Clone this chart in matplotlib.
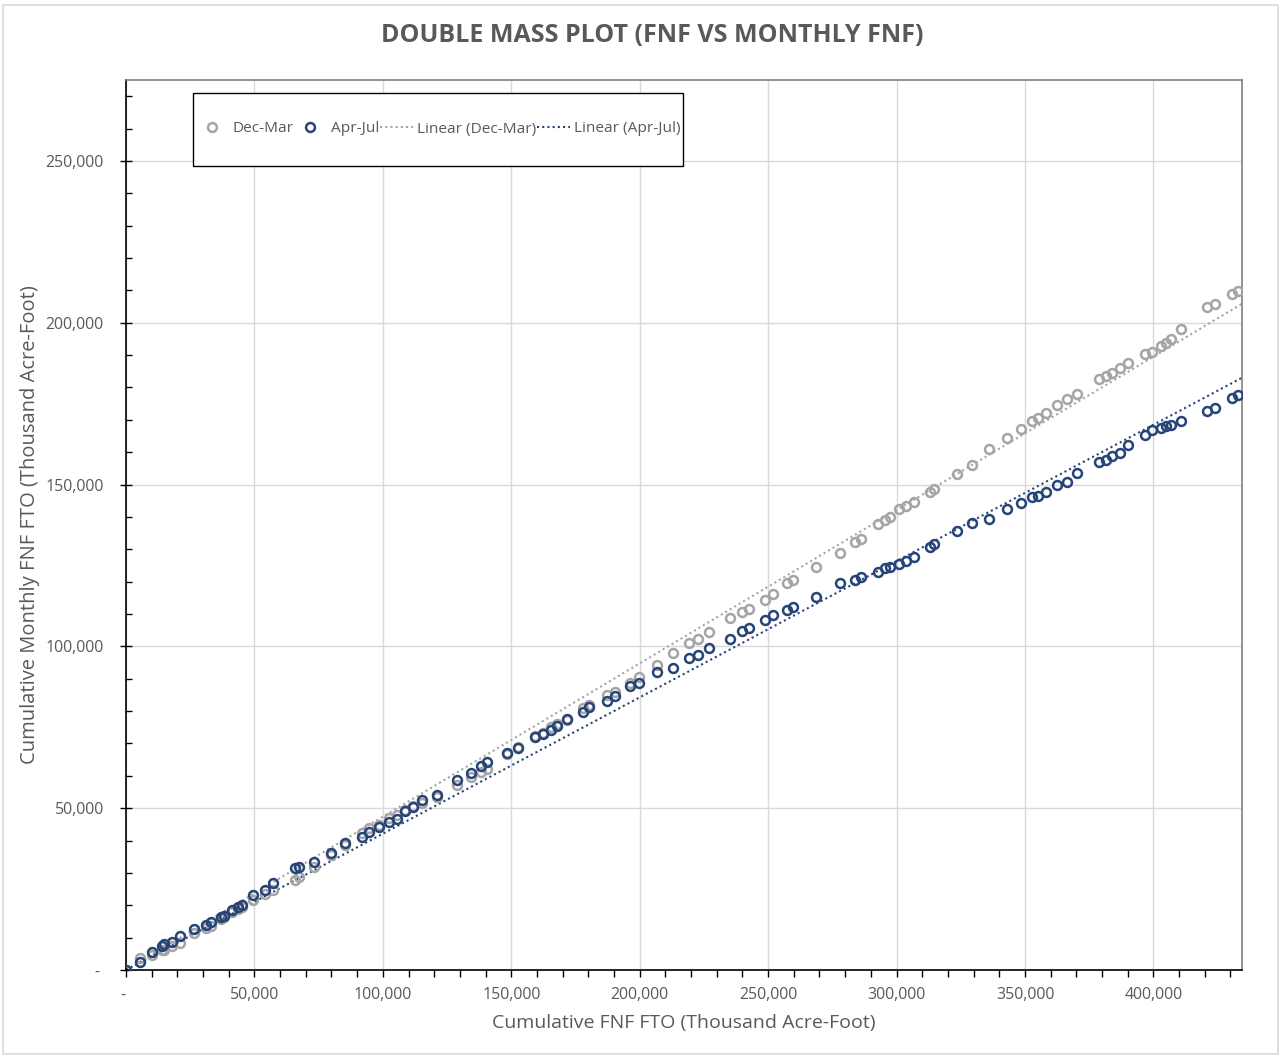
import matplotlib
matplotlib.use("Agg")
import matplotlib.pyplot as plt
from matplotlib.patches import Rectangle
from matplotlib.ticker import FuncFormatter, MultipleLocator
import numpy as np

# cumulative FNF (x) shared by both series, thousand acre-foot
cum_fnf = [0, 5450, 10100, 14000, 14800, 17900, 21000, 26450, 31100, 33070,
           36960, 38130, 41240, 43580, 45130, 49410, 54080, 57200, 65760, 67310,
           73150, 79770, 85210, 91830, 94550, 98440, 102330, 105450, 108560, 111670,
           115170, 121010, 128790, 134240, 138130, 140470, 148250, 152530, 159140, 162260,
           165370, 167700, 171590, 177820, 180150, 187160, 190270, 196110, 199610, 206610,
           212840, 219060, 222570, 226850, 235020, 239690, 242410, 248640, 251750, 257200,
           259530, 268480, 277820, 283650, 285990, 292600, 295330, 297270, 300770, 303500,
           306610, 312840, 314390, 323730, 329570, 336180, 343190, 348630, 352910, 355240,
           358360, 362640, 366530, 370420, 378980, 381700, 384040, 387150, 390270, 396880,
           399610, 403110, 405050, 407000, 410890, 421000, 424120, 430730, 433070]

# cumulative monthly FNF, Dec-Mar
dec_mar = [0, 3700, 4630, 6170, 6170, 7410, 8330, 11420, 12960, 13580,
           15740, 16360, 17900, 18820, 19440, 21600, 23450, 24690, 27770, 28700,
           31790, 35490, 38580, 42280, 43820, 44750, 46910, 47830, 49380, 50610,
           51540, 53390, 57090, 59560, 61100, 62030, 66660, 68820, 72210, 73140,
           74990, 75920, 77150, 80850, 81780, 84870, 85790, 88570, 90420, 94120,
           97830, 100910, 102150, 104310, 108630, 110480, 111400, 114180, 116030, 119430,
           120660, 124670, 128990, 132390, 133310, 137940, 139180, 140100, 142570, 143500,
           144730, 147820, 148750, 153370, 156150, 161090, 164480, 167260, 169730, 170660,
           172200, 174670, 176520, 178060, 182690, 183620, 184540, 186090, 187630, 190410,
           191030, 192880, 193800, 195040, 198120, 204910, 205840, 208920, 209850]

# cumulative monthly FNF, Apr-Jul
apr_jul = [0, 2470, 5550, 7410, 8020, 8640, 10490, 12650, 13890, 14810,
           16360, 16660, 18520, 19440, 20060, 23150, 24690, 26850, 31480, 31790,
           33330, 36110, 39190, 41040, 42590, 44130, 45670, 46600, 49070, 50300,
           52460, 54010, 58630, 60790, 62950, 64190, 66970, 68510, 71900, 72830,
           74060, 75300, 77460, 79620, 81160, 83010, 84560, 87640, 88570, 91960,
           93200, 96280, 97210, 99370, 102150, 104620, 105540, 108010, 109550, 111100,
           112020, 115110, 119430, 120660, 121280, 123130, 124060, 124670, 125600, 126530,
           127760, 130850, 131780, 135780, 138250, 139490, 142570, 144420, 146280, 146590,
           147820, 149980, 150910, 153680, 157080, 157690, 158930, 159850, 162320, 165410,
           166950, 167570, 168190, 168490, 169730, 172820, 173740, 176830, 177750]

x = np.array(cum_fnf, dtype=float)
y1 = np.array(dec_mar, dtype=float)
y2 = np.array(apr_jul, dtype=float)

grey = '#a5a5a5'
navy = '#264478'
txt = '#595959'

plt.rcParams['font.family'] = ['Open Sans', 'DejaVu Sans']

W, H = 1281, 1057
fig = plt.figure(figsize=(W / 100, H / 100), dpi=100)
ax = fig.add_axes([126 / W, 1 - 970 / H, (1242 - 126) / W, (970 - 80) / H])

# outer chart border
fig.patches.append(Rectangle((3 / W, 1 - 1054 / H), 1275 / W, 1049 / H,
                             transform=fig.transFigure, fill=False,
                             edgecolor='#d9d9d9', lw=1.2))

ax.plot(x, y1, 'o', mfc='none', mec=grey, mew=1.8, ms=6.4, label='Dec-Mar', zorder=3)
ax.plot(x, y2, 'o', mfc='none', mec=navy, mew=1.8, ms=6.4, label='Apr-Jul', zorder=3)

# linear trend lines through the origin (Excel trendline, intercept = 0)
xs = np.array([0, 434500])
k1 = np.sum(x * y1) / np.sum(x * x)
k2 = np.sum(x * y2) / np.sum(x * x)
ax.plot(xs, k1 * xs, color=grey, lw=1.5, ls=(0, (1, 1.5)),
        label='Linear (Dec-Mar)', zorder=2)
ax.plot(xs, k2 * xs, color=navy, lw=1.5, ls=(0, (1, 1.5)),
        label='Linear (Apr-Jul)', zorder=2)

ax.set_xlim(0, 434500)
ax.set_ylim(0, 275000)

def fmt(v, pos):
    if abs(v) < 1:
        return '- '
    return '{:,.0f}'.format(v)

ax.xaxis.set_major_locator(MultipleLocator(50000))
ax.xaxis.set_minor_locator(MultipleLocator(10000))
ax.yaxis.set_major_locator(MultipleLocator(50000))
ax.yaxis.set_minor_locator(MultipleLocator(10000))
ax.xaxis.set_major_formatter(FuncFormatter(fmt))
ax.yaxis.set_major_formatter(FuncFormatter(fmt))

ax.grid(True, which='major', color='#d9d9d9', lw=1.0, zorder=0)
ax.set_axisbelow(True)

ax.tick_params(axis='x', which='major', direction='out', length=5, width=1,
               labelsize=11.4, labelcolor=txt, pad=7)
ax.tick_params(axis='x', which='minor', direction='out', length=5, width=1)
ax.tick_params(axis='y', which='major', direction='inout', length=8, width=1,
               labelsize=11.4, labelcolor=txt, pad=12)
ax.tick_params(axis='y', which='minor', direction='in', length=4, width=1)

for s in ['left', 'bottom']:
    ax.spines[s].set_color('black')
    ax.spines[s].set_linewidth(1.2)
for s in ['top', 'right']:
    ax.spines[s].set_color('#7f7f7f')
    ax.spines[s].set_linewidth(1.2)

ax.set_xlabel('Cumulative FNF FTO (Thousand Acre-Foot)', fontsize=14, color=txt, labelpad=8)
ax.set_ylabel('Cumulative Monthly FNF FTO (Thousand Acre-Foot)', fontsize=14.5, color=txt, labelpad=4)

fig.text(652 / W, 1 - 35 / H, 'DOUBLE MASS PLOT (FNF VS MONTHLY FNF)',
         ha='center', va='center', fontsize=18, fontweight='bold', color=txt)

# legend box drawn by hand, entries placed inside
box = Rectangle((193 / W, 1 - 166 / H), (683 - 193) / W, (166 - 93) / H,
                transform=fig.transFigure, facecolor='white', edgecolor='black',
                lw=1.0, zorder=4.5, clip_on=False)
ax.add_patch(box)
leg = ax.legend(loc='center left', bbox_to_anchor=(195 / W, 1 - 129 / H),
                bbox_transform=fig.transFigure, ncol=4, frameon=False,
                fontsize=11.1, labelcolor=txt, handlelength=2.15, handletextpad=0.25,
                columnspacing=0.05, borderpad=0, borderaxespad=0)
leg.set_zorder(5)

fig.savefig('out.png', dpi=100)
